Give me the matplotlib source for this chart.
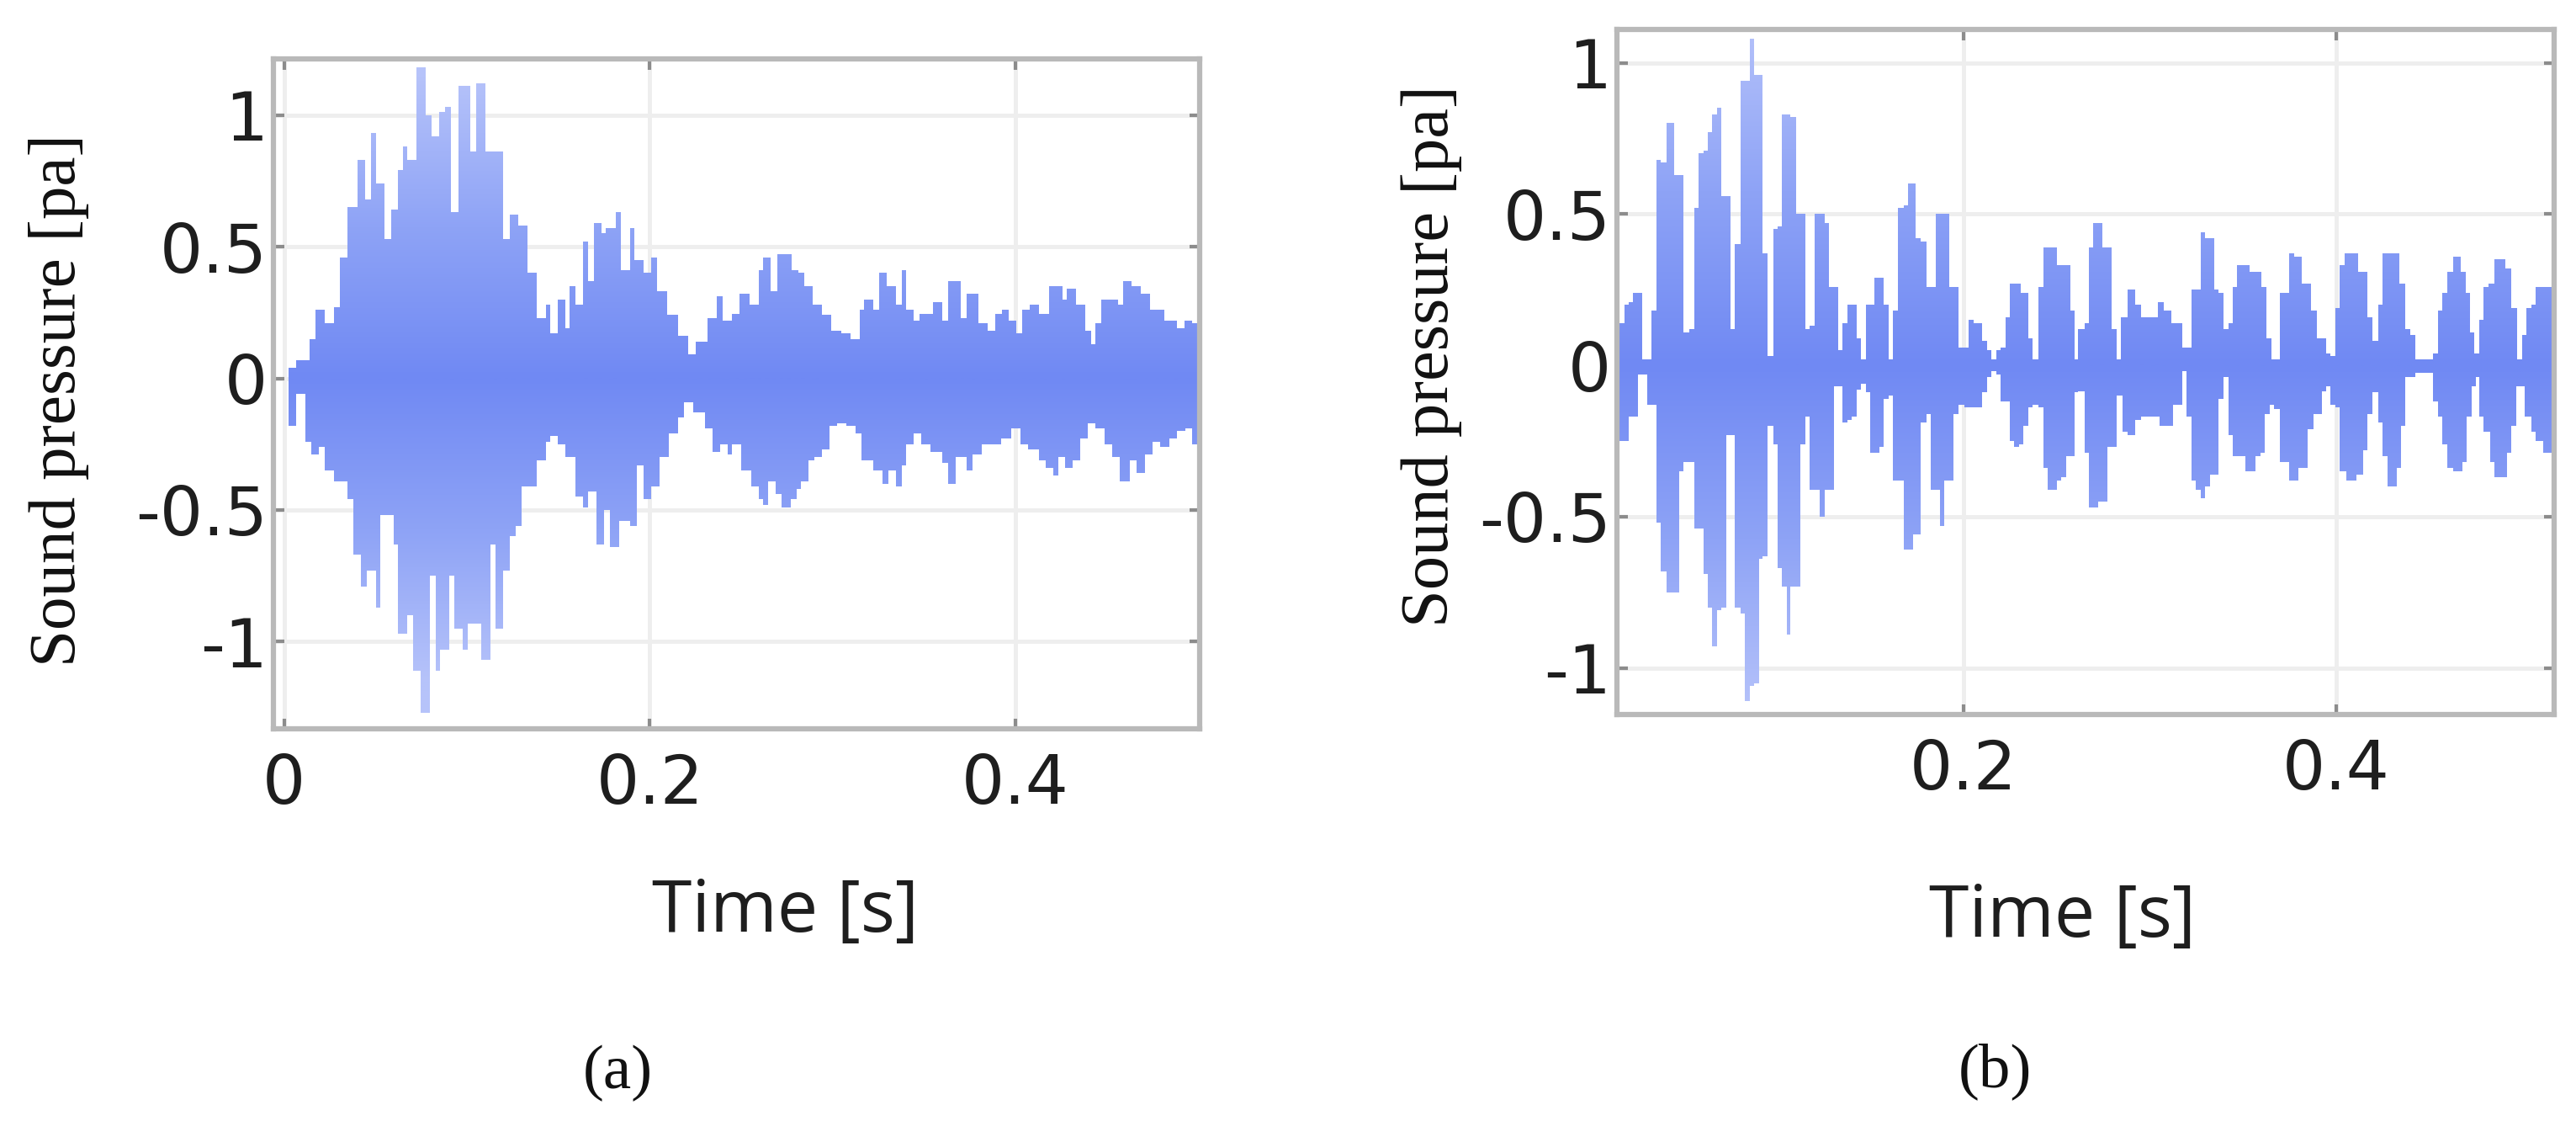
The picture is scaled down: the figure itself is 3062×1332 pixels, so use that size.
import numpy as np
import matplotlib
matplotlib.use("Agg")
import matplotlib.pyplot as plt
from matplotlib.colors import LinearSegmentedColormap

plt.rcParams['axes.unicode_minus'] = False

# ---------------- Panel (a): envelope of the sound-pressure trace ----------------
a_up_t = [0.0025, 0.0066, 0.0140, 0.0173, 0.0222, 0.0272, 0.0305, 0.0346, 0.0403, 0.0444,
          0.0477, 0.0502, 0.0551, 0.0584, 0.0625, 0.0650, 0.0675, 0.0724, 0.0773, 0.0806,
          0.0847, 0.0880, 0.0913, 0.0954, 0.1020, 0.1053, 0.1102, 0.1200, 0.1233, 0.1283,
          0.1332, 0.1381, 0.1431, 0.1455, 0.1496, 0.1538, 0.1562, 0.1595, 0.1636, 0.1661,
          0.1694, 0.1735, 0.1759, 0.1817, 0.1842, 0.1891, 0.1915, 0.1965, 0.2006, 0.2039,
          0.2096, 0.2154, 0.2211, 0.2252, 0.2318, 0.2367, 0.2400, 0.2450, 0.2491, 0.2548,
          0.2597, 0.2622, 0.2663, 0.2696, 0.2778, 0.2811, 0.2844, 0.2893, 0.2943, 0.2992,
          0.3050, 0.3099, 0.3148, 0.3173, 0.3222, 0.3255, 0.3296, 0.3346, 0.3379, 0.3403,
          0.3444, 0.3477, 0.3551, 0.3600, 0.3633, 0.3699, 0.3732, 0.3797, 0.3847, 0.3888,
          0.3929, 0.3962, 0.4003, 0.4036, 0.4077, 0.4127, 0.4184, 0.4258, 0.4282, 0.4332,
          0.4381, 0.4414, 0.4438, 0.4471, 0.4562, 0.4587, 0.4636, 0.4685, 0.4735, 0.4817,
          0.4882, 0.4924, 0.4965]
a_up = [0.04, 0.07, 0.15, 0.26, 0.21, 0.27, 0.46, 0.65, 0.83, 0.68,
        0.93, 0.74, 0.53, 0.64, 0.79, 0.88, 0.83, 1.18, 1.00, 0.92,
        1.01, 1.03, 0.63, 1.11, 0.86, 1.12, 0.86, 0.53, 0.62, 0.58,
        0.40, 0.23, 0.28, 0.17, 0.30, 0.19, 0.35, 0.28, 0.52, 0.37,
        0.59, 0.55, 0.57, 0.63, 0.41, 0.57, 0.45, 0.40, 0.46, 0.33,
        0.24, 0.16, 0.09, 0.14, 0.23, 0.31, 0.22, 0.245, 0.32, 0.28,
        0.41, 0.46, 0.33, 0.47, 0.41, 0.40, 0.35, 0.28, 0.24, 0.18,
        0.17, 0.15, 0.26, 0.30, 0.26, 0.40, 0.35, 0.28, 0.41, 0.26,
        0.22, 0.245, 0.29, 0.22, 0.37, 0.23, 0.32, 0.21, 0.18, 0.245,
        0.26, 0.22, 0.17, 0.26, 0.28, 0.245, 0.35, 0.30, 0.34, 0.28,
        0.18, 0.13, 0.21, 0.30, 0.28, 0.37, 0.35, 0.32, 0.26, 0.22,
        0.19, 0.22, 0.21]
a_lo_t = [0.0025, 0.0066, 0.0116, 0.0149, 0.0190, 0.0222, 0.0272, 0.0346, 0.0379, 0.0420,
          0.0453, 0.0502, 0.0527, 0.0601, 0.0625, 0.0675, 0.0707, 0.0749, 0.0798, 0.0831,
          0.0855, 0.0905, 0.0929, 0.0979, 0.1003, 0.1077, 0.1127, 0.1159, 0.1200, 0.1233,
          0.1266, 0.1299, 0.1332, 0.1381, 0.1431, 0.1455, 0.1496, 0.1538, 0.1595, 0.1636,
          0.1661, 0.1710, 0.1751, 0.1784, 0.1833, 0.1891, 0.1932, 0.1965, 0.2006, 0.2055,
          0.2105, 0.2154, 0.2187, 0.2236, 0.2302, 0.2343, 0.2384, 0.2425, 0.2450, 0.2499,
          0.2557, 0.2597, 0.2622, 0.2647, 0.2688, 0.2721, 0.2770, 0.2803, 0.2827, 0.2869,
          0.2902, 0.2943, 0.2984, 0.3025, 0.3074, 0.3124, 0.3157, 0.3222, 0.3272, 0.3305,
          0.3346, 0.3379, 0.3403, 0.3444, 0.3485, 0.3535, 0.3600, 0.3633, 0.3674, 0.3732,
          0.3764, 0.3814, 0.3880, 0.3921, 0.3979, 0.4028, 0.4069, 0.4127, 0.4168, 0.4208,
          0.4233, 0.4274, 0.4315, 0.4356, 0.4397, 0.4438, 0.4488, 0.4529, 0.4570, 0.4628,
          0.4661, 0.4710, 0.4751, 0.4792, 0.4841, 0.4882, 0.4932, 0.4965]
a_lo = [-0.18, -0.06, -0.24, -0.29, -0.26, -0.35, -0.39, -0.46, -0.67, -0.79,
        -0.73, -0.87, -0.52, -0.63, -0.97, -0.90, -1.11, -1.27, -0.75, -1.11,
        -1.03, -0.75, -0.95, -1.03, -0.93, -1.07, -0.63, -0.95, -0.73, -0.60,
        -0.56, -0.41, -0.41, -0.31, -0.24, -0.22, -0.25, -0.30, -0.45, -0.49,
        -0.43, -0.63, -0.50, -0.64, -0.54, -0.56, -0.33, -0.46, -0.41, -0.30,
        -0.21, -0.15, -0.09, -0.13, -0.19, -0.28, -0.25, -0.29, -0.25, -0.35,
        -0.41, -0.46, -0.48, -0.39, -0.44, -0.49, -0.46, -0.42, -0.39, -0.31,
        -0.30, -0.27, -0.18, -0.17, -0.18, -0.21, -0.31, -0.35, -0.40, -0.35,
        -0.41, -0.33, -0.25, -0.21, -0.25, -0.28, -0.32, -0.40, -0.30, -0.35,
        -0.29, -0.25, -0.25, -0.23, -0.19, -0.25, -0.27, -0.31, -0.34, -0.37,
        -0.30, -0.34, -0.31, -0.23, -0.17, -0.19, -0.25, -0.30, -0.39, -0.31,
        -0.36, -0.29, -0.24, -0.26, -0.23, -0.20, -0.19, -0.25]
a_t_end = 0.5000

# ---------------- Panel (b) ----------------
b_up_t = [0.0152, 0.0180, 0.0204, 0.0228, 0.0277, 0.0302, 0.0326, 0.0351, 0.0375, 0.0408,
          0.0448, 0.0497, 0.0530, 0.0554, 0.0579, 0.0603, 0.0627, 0.0652, 0.0676, 0.0701,
          0.0750, 0.0774, 0.0803, 0.0852, 0.0878, 0.0921, 0.0950, 0.0978, 0.1002, 0.1027,
          0.1072, 0.1100, 0.1149, 0.1173, 0.1201, 0.1255, 0.1276, 0.1328, 0.1352, 0.1377,
          0.1426, 0.1450, 0.1474, 0.1523, 0.1572, 0.1597, 0.1621, 0.1650, 0.1678, 0.1702,
          0.1743, 0.1768, 0.1800, 0.1849, 0.1922, 0.1971, 0.2028, 0.2053, 0.2101, 0.2126,
          0.2150, 0.2175, 0.2199, 0.2224, 0.2248, 0.2305, 0.2346, 0.2370, 0.2403, 0.2427,
          0.2501, 0.2574, 0.2598, 0.2615, 0.2648, 0.2672, 0.2697, 0.2746, 0.2795, 0.2820,
          0.2845, 0.2878, 0.2919, 0.2951, 0.3042, 0.3075, 0.3116, 0.3173, 0.3223, 0.3272,
          0.3296, 0.3346, 0.3370, 0.3395, 0.3420, 0.3444, 0.3469, 0.3535, 0.3600, 0.3625,
          0.3650, 0.3699, 0.3748, 0.3773, 0.3814, 0.3863, 0.3896, 0.3945, 0.3970, 0.3995,
          0.4019, 0.4044, 0.4118, 0.4167, 0.4192, 0.4225, 0.4249, 0.4340, 0.4372, 0.4397,
          0.4422, 0.4487, 0.4520, 0.4545, 0.4570, 0.4594, 0.4627, 0.4668, 0.4693, 0.4717,
          0.4742, 0.4767, 0.4791, 0.4816, 0.4849, 0.4906, 0.4939, 0.4972, 0.4997, 0.5021,
          0.5046, 0.5071]
b_up = [0.14, 0.20, 0.21, 0.24, 0.02, 0.01, 0.18, 0.68, 0.67, 0.80,
        0.63, 0.11, 0.12, 0.52, 0.70, 0.71, 0.77, 0.83, 0.85, 0.56,
        0.12, 0.40, 0.94, 1.08, 0.96, 0.37, 0.03, 0.45, 0.46, 0.83,
        0.82, 0.50, 0.12, 0.13, 0.50, 0.47, 0.26, 0.05, 0.14, 0.20,
        0.09, 0.02, 0.20, 0.29, 0.20, 0.01, 0.18, 0.52, 0.53, 0.60,
        0.42, 0.41, 0.26, 0.50, 0.26, 0.06, 0.15, 0.14, 0.08, 0.05,
        0.02, 0.05, 0.06, 0.16, 0.27, 0.24, 0.09, 0.01, 0.26, 0.39,
        0.33, 0.18, 0.02, 0.12, 0.14, 0.39, 0.47, 0.39, 0.12, 0.02,
        0.16, 0.25, 0.20, 0.16, 0.21, 0.18, 0.14, 0.06, 0.25, 0.44,
        0.42, 0.25, 0.24, 0.12, 0.14, 0.26, 0.33, 0.31, 0.26, 0.09,
        0.02, 0.24, 0.37, 0.36, 0.27, 0.18, 0.09, 0.04, 0.03, 0.19,
        0.33, 0.37, 0.31, 0.16, 0.08, 0.20, 0.37, 0.27, 0.12, 0.10,
        0.01, 0.02, 0.04, 0.18, 0.24, 0.31, 0.36, 0.31, 0.24, 0.11,
        0.04, 0.15, 0.26, 0.27, 0.35, 0.32, 0.19, 0.01, 0.10, 0.19,
        0.20, 0.26]
b_lo_t = [0.0152, 0.0204, 0.0253, 0.0302, 0.0351, 0.0375, 0.0408, 0.0473, 0.0497, 0.0554,
          0.0603, 0.0627, 0.0652, 0.0676, 0.0701, 0.0725, 0.0774, 0.0803, 0.0824, 0.0852,
          0.0878, 0.0901, 0.0921, 0.0950, 0.0978, 0.1002, 0.1027, 0.1051, 0.1072, 0.1124,
          0.1149, 0.1173, 0.1230, 0.1255, 0.1303, 0.1352, 0.1377, 0.1401, 0.1426, 0.1450,
          0.1474, 0.1499, 0.1548, 0.1572, 0.1597, 0.1621, 0.1678, 0.1727, 0.1768, 0.1800,
          0.1825, 0.1873, 0.1898, 0.1947, 0.1971, 0.2004, 0.2101, 0.2126, 0.2150, 0.2175,
          0.2199, 0.2248, 0.2272, 0.2297, 0.2321, 0.2346, 0.2370, 0.2403, 0.2427, 0.2452,
          0.2501, 0.2525, 0.2549, 0.2598, 0.2615, 0.2648, 0.2672, 0.2721, 0.2771, 0.2820,
          0.2853, 0.2878, 0.2919, 0.2951, 0.3050, 0.3124, 0.3173, 0.3198, 0.3223, 0.3247,
          0.3272, 0.3296, 0.3321, 0.3370, 0.3395, 0.3420, 0.3444, 0.3510, 0.3568, 0.3592,
          0.3617, 0.3641, 0.3666, 0.3699, 0.3748, 0.3798, 0.3847, 0.3880, 0.3921, 0.3945,
          0.3970, 0.3995, 0.4019, 0.4052, 0.4110, 0.4143, 0.4167, 0.4192, 0.4225, 0.4249,
          0.4274, 0.4323, 0.4348, 0.4372, 0.4422, 0.4520, 0.4545, 0.4570, 0.4594, 0.4627,
          0.4676, 0.4701, 0.4726, 0.4750, 0.4767, 0.4791, 0.4824, 0.4849, 0.4915, 0.4939,
          0.4964, 0.5013, 0.5046, 0.5071, 0.5112]
b_lo = [-0.25, -0.17, -0.03, -0.13, -0.52, -0.68, -0.75, -0.35, -0.32, -0.54,
        -0.69, -0.80, -0.93, -0.81, -0.80, -0.23, -0.80, -0.82, -1.11, -1.06,
        -1.05, -0.64, -0.63, -0.20, -0.26, -0.67, -0.73, -0.89, -0.73, -0.26,
        -0.17, -0.41, -0.50, -0.41, -0.07, -0.19, -0.18, -0.17, -0.08, -0.06,
        -0.09, -0.29, -0.27, -0.11, -0.10, -0.38, -0.61, -0.56, -0.19, -0.16,
        -0.41, -0.53, -0.38, -0.16, -0.13, -0.14, -0.09, -0.04, -0.01, -0.03,
        -0.12, -0.25, -0.27, -0.26, -0.20, -0.14, -0.13, -0.14, -0.34, -0.41,
        -0.38, -0.37, -0.30, -0.09, -0.085, -0.29, -0.47, -0.45, -0.27, -0.10,
        -0.22, -0.23, -0.18, -0.17, -0.20, -0.13, -0.02, -0.17, -0.38, -0.41,
        -0.44, -0.40, -0.36, -0.11, -0.04, -0.23, -0.30, -0.35, -0.30, -0.29,
        -0.16, -0.13, -0.145, -0.32, -0.38, -0.34, -0.21, -0.16, -0.085, -0.07,
        -0.13, -0.14, -0.35, -0.38, -0.36, -0.28, -0.16, -0.09, -0.19, -0.30,
        -0.40, -0.34, -0.20, -0.04, -0.025, -0.12, -0.17, -0.26, -0.34, -0.35,
        -0.32, -0.17, -0.07, -0.04, -0.17, -0.22, -0.32, -0.37, -0.29, -0.20,
        -0.07, -0.17, -0.22, -0.25, -0.29]
b_t_end = 0.5158

y_ticks = [-1, -0.5, 0, 0.5, 1]
y_tick_labels = ['-1', '-0.5', '0', '0.5', '1']
a_x_ticks = [0, 0.2, 0.4]
a_x_tick_labels = ['0', '0.2', '0.4']
b_x_ticks = [0.2, 0.4]
b_x_tick_labels = ['0.2', '0.4']

W, H = 3062, 1332
fig = plt.figure(figsize=(W / 100, H / 100), dpi=100)
fig.patch.set_facecolor('white')

wave_cmap = LinearSegmentedColormap.from_list('wave', ['#7089f3', '#8ea3f6', '#b6c3fa'])


def px_rect(left, top, right, bottom):
    return [left / W, 1 - bottom / H, (right - left) / W, (bottom - top) / H]


def draw_panel(ax, up_t, up_v, lo_t, lo_v, t_end, xlim, ylim, xticks, xlabels):
    ax.set_axisbelow(True)
    tu = np.r_[up_t, t_end]
    yu = np.r_[up_v, up_v[-1]]
    tl = np.r_[lo_t, t_end]
    yl = np.r_[lo_v, lo_v[-1]]
    grad = np.abs(np.linspace(ylim[0], ylim[1], 800))[:, None]
    for t, y, base in ((tu, yu, -0.02), (tl, yl, 0.02)):
        poly = ax.fill_between(t, base, y, step='post', facecolor='none',
                               edgecolor='none', linewidth=0)
        im = ax.imshow(grad, extent=[xlim[0], xlim[1], ylim[0], ylim[1]],
                       origin='lower', aspect='auto', cmap=wave_cmap,
                       vmin=0, vmax=1.15, interpolation='bilinear', zorder=2)
        im.set_clip_path(poly.get_paths()[0], ax.transData)
    ax.set_xlim(*xlim)
    ax.set_ylim(*ylim)
    ax.set_xticks(xticks)
    ax.set_xticklabels(xlabels)
    ax.set_yticks(y_ticks)
    ax.set_yticklabels(y_tick_labels)
    ax.grid(True, color='#eeeeee', linewidth=3.6)
    for sp in ax.spines.values():
        sp.set_color('#b9b9b9')
        sp.set_linewidth(4.5)
    ax.tick_params(direction='in', length=9, width=3, color='#8c8c8c',
                   top=True, right=True, labelcolor='#1e1e1e', labelsize=58)
    ax.tick_params(axis='x', pad=20)
    ax.tick_params(axis='y', pad=5)
    for lab in ax.get_xticklabels() + ax.get_yticklabels():
        lab.set_fontfamily('DejaVu Sans')


ax_a = fig.add_axes(px_rect(325, 70, 1426, 866))
draw_panel(ax_a, a_up_t, a_up, a_lo_t, a_lo, a_t_end,
           (-0.0058, 0.5008), (-1.3307, 1.2125), a_x_ticks, a_x_tick_labels)

ax_b = fig.add_axes(px_rect(1922, 35, 3036, 849))
draw_panel(ax_b, b_up_t, b_up, b_lo_t, b_lo, b_t_end,
           (0.0140, 0.5169), (-1.154, 1.110), b_x_ticks, b_x_tick_labels)

# axis labels
fig.text(70 / W, 1 - 476 / H, 'Sound pressure [pa]', rotation=90, ha='center',
         va='center', family='Liberation Serif', size=57, color='#111111')
fig.text(1701 / W, 1 - 423 / H, 'Sound pressure [pa]', rotation=90, ha='center',
         va='center', family='Liberation Serif', size=58, color='#111111')
fig.text(934 / W, 1 - 1107 / H, 'Time [s]', ha='center', va='baseline',
         family='Open Sans', size=62, color='#1e1e1e')
fig.text(2452 / W, 1 - 1113 / H, 'Time [s]', ha='center', va='baseline',
         family='Open Sans', size=62, color='#1e1e1e')

# panel captions
fig.text(734 / W, 1 - 1293 / H, '(a)', ha='center', va='baseline',
         family='Liberation Serif', size=54, color='#111111')
fig.text(2371 / W, 1 - 1291 / H, '(b)', ha='center', va='baseline',
         family='Liberation Serif', size=54, color='#111111')

fig.savefig('out.png', dpi=100, facecolor='white')
